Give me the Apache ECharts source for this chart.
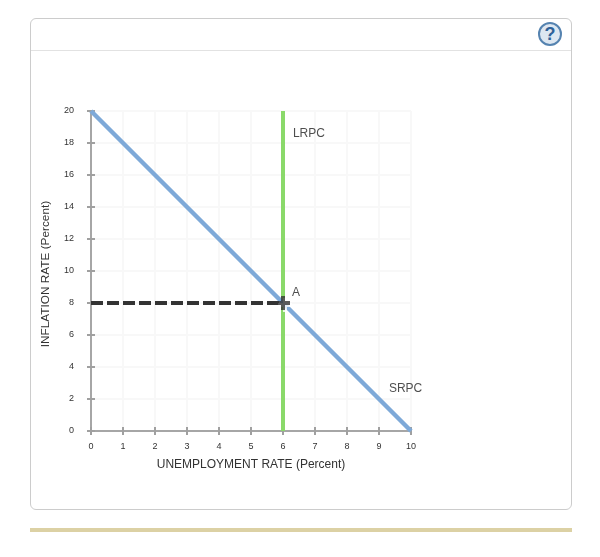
<!DOCTYPE html>
<html>
<head>
<meta charset="utf-8">
<title>Phillips curve</title>
<script src="https://cdn.jsdelivr.net/npm/echarts@6/dist/echarts.min.js"></script>
<style>
  html, body { margin: 0; padding: 0; background: #fff; }
  #card { position: absolute; left: 30px; top: 18px; width: 540px; height: 490px; border: 1px solid #ccc; border-radius: 6px; }
  #head { position: absolute; left: 0; top: 31px; width: 100%; height: 1px; background: #e2e2e2; }
  #help { position: absolute; left: 507px; top: 3px; width: 20px; height: 20px; border: 2px solid #5583b0; border-radius: 50%;
    background: #dde7f1; color: #2f6299; font: bold 18px/21px "Liberation Sans", Arial, sans-serif; text-align: center; }
  #bar { position: absolute; left: 30px; top: 528px; width: 542px; height: 4px; background: #dcd1a4; }
  #main { position: absolute; left: 0; top: 0; width: 600px; height: 557px; }
</style>
</head>
<body>
<div id="card"><div id="head"></div><div id="help">?</div></div>
<div id="bar"></div>
<div id="main"></div>
<script>
const srpc = [[0, 20], [10, 0]]
const lrpc = [[6, 0], [6, 20]]
const dashed = [[0, 8], [6, 8]]
const pointA = [[6, 8]]
const curveLabels = [
  { name: 'LRPC', value: [6.31, 18.6] },
  { name: 'SRPC', value: [9.31, 2.63] },
  { name: 'A', value: [6.28, 8.65] }
]
const xTitle = 'UNEMPLOYMENT RATE (Percent)'
const yTitle = 'INFLATION RATE (Percent)'

const font = '"Liberation Sans", Arial, sans-serif'
const plus = 'path://M5 0H9V5H14V9H9V14H5V9H0V5H5Z'
const tickStyle = { color: '#a0a0a0', width: 2 }

function axis(extra) {
  return Object.assign({
    type: 'value',
    min: 0,
    axisLine: { show: true, onZero: false, lineStyle: { color: '#a6a6a6', width: 2 } },
    axisTick: { show: true, length: 4, lineStyle: tickStyle },
    splitLine: { show: false },
    axisLabel: { show: false }
  }, extra)
}

const grid = { color: '#f8f8f8', width: 2 }

const chart = echarts.init(document.getElementById('main'))
chart.setOption({
  animation: false,
  backgroundColor: 'transparent',
  grid: { left: 91, top: 111, width: 320, height: 320 },
  xAxis: [
    axis({
      max: 10, interval: 1, position: 'bottom',
      name: xTitle, nameLocation: 'middle', nameGap: 28,
      nameTextStyle: { color: '#333', fontFamily: font, fontSize: 12 },
      splitLine: { show: true, lineStyle: grid },
      axisLabel: { show: true, color: '#333', fontFamily: font, fontSize: 9, margin: 11 }
    }),
    axis({ max: 10, interval: 1, position: 'bottom', axisTick: { show: true, inside: true, length: 4, lineStyle: tickStyle } })
  ],
  yAxis: [
    axis({
      max: 20, interval: 2, position: 'left',
      name: yTitle, nameLocation: 'middle', nameGap: 39,
      nameTextStyle: { color: '#333', fontFamily: font, fontSize: 11.8, padding: [0, 6, 0, 0] },
      splitLine: { show: true, lineStyle: grid },
      axisLabel: { show: true, color: '#333', fontFamily: font, fontSize: 9, margin: 17, padding: [3, 0, 0, 0] }
    }),
    axis({ max: 20, interval: 2, position: 'left', axisTick: { show: true, inside: true, length: 4, lineStyle: tickStyle } })
  ],
  series: [
    { name: 'LRPC', type: 'line', data: lrpc, symbol: 'none', lineStyle: { color: '#8ad96a', width: 4 }, z: 3 },
    { name: 'SRPC', type: 'line', data: srpc, symbol: 'none', lineStyle: { color: '#7ea9d8', width: 4.5 }, z: 4 },
    { type: 'line', data: dashed, symbol: 'none', lineStyle: { color: '#333', width: 4, type: [12, 4] }, z: 5 },
    // white copy of the cross, pushed down-right, cuts the gap in the curves
    { type: 'scatter', data: pointA, symbol: plus, symbolSize: 14, symbolOffset: [2, 2], itemStyle: { color: '#fff' }, z: 6 },
    { type: 'scatter', data: pointA, symbol: plus, symbolSize: 14, itemStyle: { color: '#333' }, z: 7 },
    {
      type: 'scatter', data: curveLabels, symbolSize: 0, z: 8,
      label: { show: true, position: 'right', distance: 0, formatter: '{b}', color: '#222', fontFamily: font, fontSize: 12 }
    }
  ]
})
</script>
</body>
</html>
